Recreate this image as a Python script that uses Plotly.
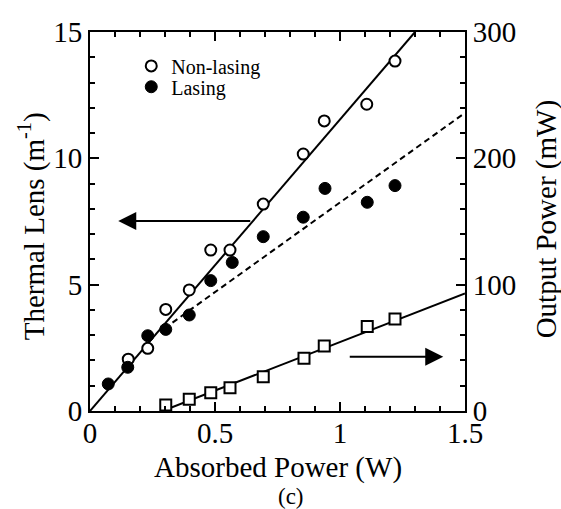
import plotly.graph_objects as go

# Data
nl_x = [0.153, 0.231, 0.303, 0.397, 0.483, 0.560, 0.693, 0.853, 0.937, 1.107, 1.220]
nl_y = [2.05, 2.48, 4.02, 4.79, 6.37, 6.37, 8.19, 10.17, 11.48, 12.14, 13.85]

l_x = [0.073, 0.151, 0.231, 0.303, 0.397, 0.483, 0.569, 0.693, 0.853, 0.940, 1.109, 1.220]
l_y = [1.07, 1.73, 2.98, 3.23, 3.80, 5.16, 5.88, 6.90, 7.67, 8.81, 8.26, 8.92]

out_x = [0.303, 0.397, 0.483, 0.560, 0.693, 0.856, 0.937, 1.109, 1.220]
out_y = [4.7, 9.3, 14.5, 18.5, 27.2, 41.7, 51.5, 66.8, 72.8]

nl_fit_x = [0.0, 1.3]
nl_fit_y = [0.0, 15.0]
l_fit_x = [0.33, 1.5]
l_fit_y = [3.5, 11.8]
out_fit_x = [0.29, 1.5]
out_fit_y = [0.0, 93.0]

FONT = "Liberation Serif"

fig = go.Figure()
fig.add_trace(go.Scatter(x=nl_fit_x, y=nl_fit_y, mode="lines",
                         line=dict(color="black", width=2), showlegend=False))
fig.add_trace(go.Scatter(x=l_fit_x, y=l_fit_y, mode="lines",
                         line=dict(color="black", width=2, dash="6px,4px"), showlegend=False))
fig.add_trace(go.Scatter(x=out_fit_x, y=out_fit_y, mode="lines", yaxis="y2",
                         line=dict(color="black", width=2), showlegend=False))
fig.add_trace(go.Scatter(x=nl_x, y=nl_y, mode="markers", name="Non-lasing", legend="legend",
                         marker=dict(symbol="circle", size=11, color="white",
                                     line=dict(color="black", width=2))))
fig.add_trace(go.Scatter(x=l_x, y=l_y, mode="markers", name="Lasing", legend="legend2",
                         marker=dict(symbol="circle", size=12, color="black",
                                     line=dict(color="black", width=1))))
fig.add_trace(go.Scatter(x=out_x, y=out_y, mode="markers", yaxis="y2", showlegend=False,
                         marker=dict(symbol="square", size=11, color="white",
                                     line=dict(color="black", width=2))))

axis_common = dict(showgrid=False, zeroline=False, showline=True, linecolor="black",
                   linewidth=2, ticks="inside", tickcolor="black", tickwidth=2,
                   ticklen=9, tickfont=dict(family=FONT, size=29, color="black"))

legend_common = dict(xanchor="left", yanchor="top", bgcolor="rgba(0,0,0,0)",
                     font=dict(family=FONT, size=20, color="black"), itemwidth=30,
                     tracegroupgap=0)

fig.update_layout(
    width=561, height=509,
    margin=dict(l=90, r=96, t=32, b=98),
    paper_bgcolor="white", plot_bgcolor="white",
    font=dict(family=FONT, color="black"),
    xaxis=dict(range=[0, 1.5], tickvals=[0, 0.5, 1, 1.5], ticktext=["0", "0.5", "1", "1.5"],
               mirror="ticks", ticklabelstandoff=-5,
               minor=dict(dtick=0.1, tick0=0, ticks="inside", ticklen=5, tickcolor="black", tickwidth=1.5),
               **axis_common),
    yaxis=dict(range=[0, 15], tickvals=[0, 5, 10, 15],
               minor=dict(dtick=1, tick0=0, ticks="inside", ticklen=5, tickcolor="black", tickwidth=1.5),
               **axis_common),
    yaxis2=dict(range=[0, 300], tickvals=[0, 100, 200, 300], overlaying="y", side="right",
                minor=dict(dtick=20, tick0=0, ticks="inside", ticklen=5, tickcolor="black", tickwidth=1.5),
                **axis_common),
    legend=dict(x=0.11, y=0.962, **legend_common),
    legend2=dict(x=0.11, y=0.907, **legend_common),
    showlegend=True,
)

fig.add_annotation(text="Absorbed Power (W)", xref="paper", yref="paper",
                   x=0.5, y=-0.150, xanchor="center", yanchor="middle", showarrow=False,
                   font=dict(family=FONT, size=29, color="black"))
fig.add_annotation(text="(c)", xref="paper", yref="paper",
                   x=0.535, y=-0.226, xanchor="center", yanchor="middle", showarrow=False,
                   font=dict(family=FONT, size=23, color="black"))
fig.add_annotation(text="Thermal Lens (m<sup>-1</sup>)", xref="paper", yref="paper",
                   x=-0.155, y=0.487, xanchor="center", yanchor="middle", showarrow=False,
                   textangle=-90, font=dict(family=FONT, size=29, color="black"))
fig.add_annotation(text="Output Power (mW)", xref="paper", yref="paper",
                   x=1.218, y=0.505, xanchor="center", yanchor="middle", showarrow=False,
                   textangle=-90, font=dict(family=FONT, size=29, color="black"))

# arrows
fig.add_annotation(x=0.113, y=7.52, ax=0.647, ay=7.52, xref="x", yref="y", axref="x", ayref="y",
                   text="", showarrow=True, arrowhead=2, arrowsize=1.8, arrowwidth=2, arrowcolor="black")
fig.add_annotation(x=1.413, y=43, ax=1.033, ay=43, xref="x", yref="y2", axref="x", ayref="y2",
                   text="", showarrow=True, arrowhead=2, arrowsize=1.8, arrowwidth=2, arrowcolor="black")

fig.write_html("out.html")
